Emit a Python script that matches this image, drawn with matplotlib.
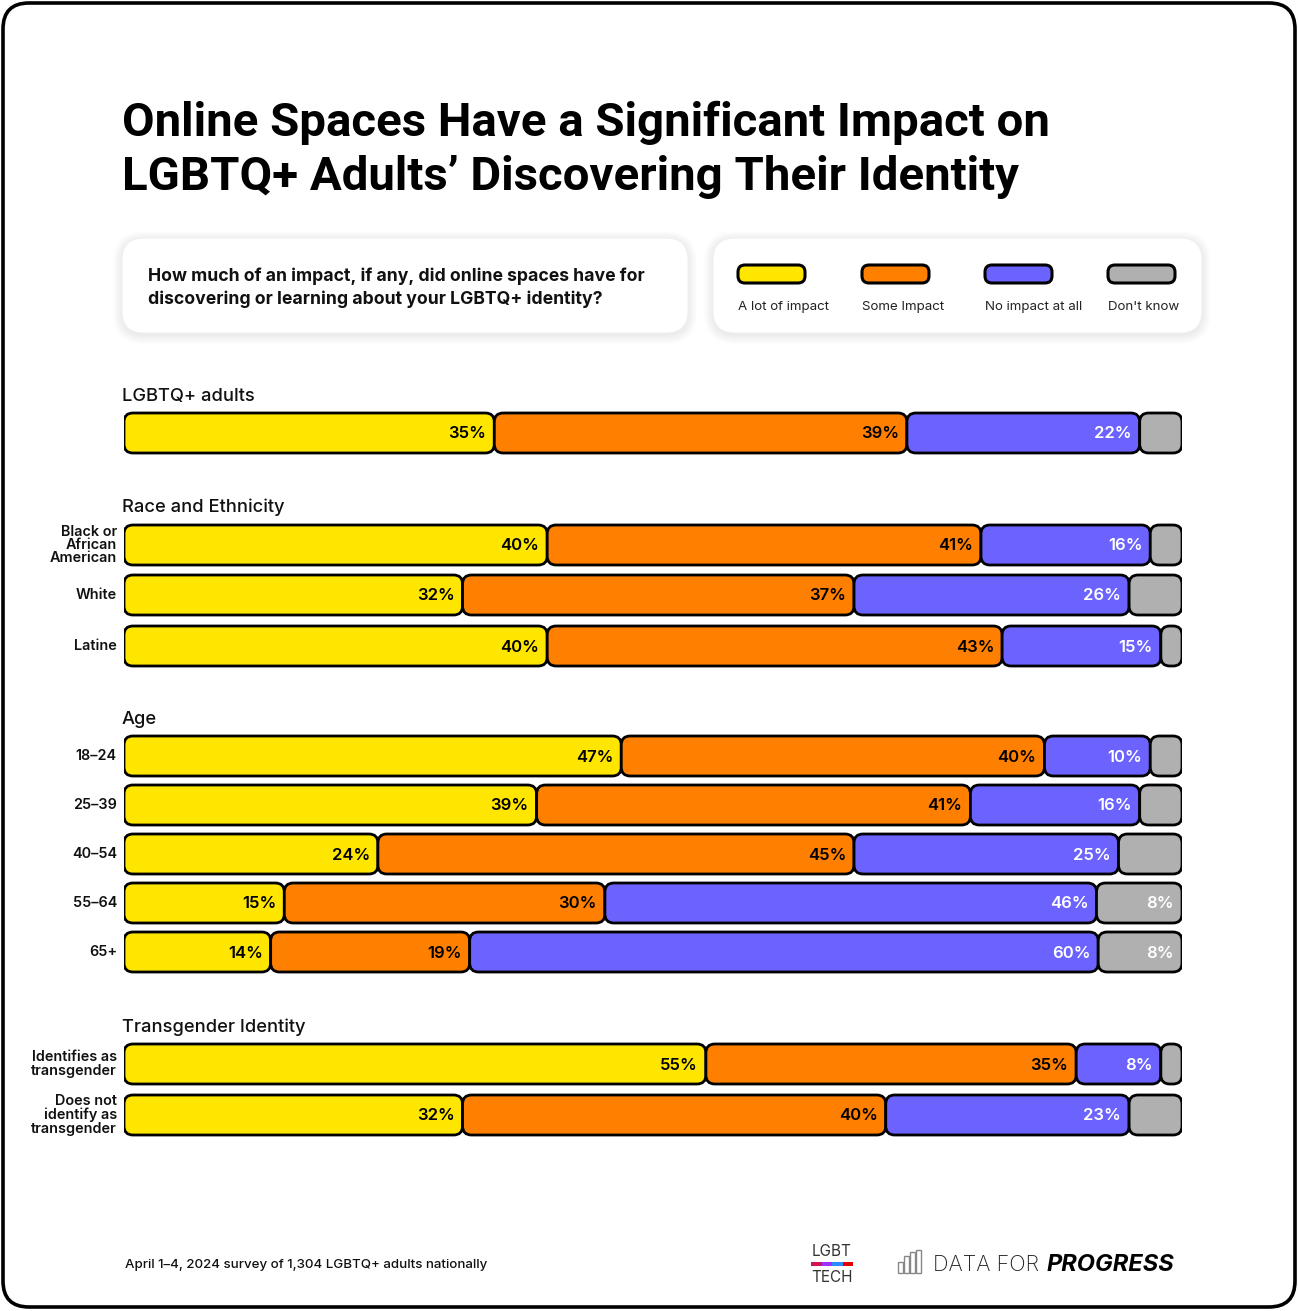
import matplotlib
matplotlib.use('Agg')
import matplotlib.pyplot as plt
from matplotlib.patches import FancyBboxPatch, Rectangle

W, H = 1298, 1311
DPI = 100

# --- data -------------------------------------------------------------
categories = ['A lot of impact', 'Some Impact', 'No impact at all', "Don't know"]
colors = ['#FFE600', '#FF7F00', '#6C63FF', '#B0B0B0']
label_colors = ['black', 'black', 'white', 'white']

group_titles = ['LGBTQ+ adults', 'Race and Ethnicity', 'Age', 'Transgender Identity']
row_labels = ['', 'Black or\nAfrican\nAmerican', 'White', 'Latine',
              '18–24', '25–39', '40–54', '55–64', '65+',
              'Identifies as\ntransgender', 'Does not\nidentify as\ntransgender']
lot_of_impact = [35, 40, 32, 40, 47, 39, 24, 15, 14, 55, 32]
some_impact = [39, 41, 37, 43, 40, 41, 45, 30, 19, 35, 40]
no_impact = [22, 16, 26, 15, 10, 16, 25, 46, 60, 8, 23]
dont_know = [4, 3, 5, 2, 3, 4, 6, 8, 8, 2, 5]
dont_know_shown = [False, False, False, False, False, False, False, True, True, False, False]

# --- layout (pixels from top) ----------------------------------------
row_y = [433, 545, 595, 646, 756, 805, 854, 903, 952, 1064, 1115]
group_y = [396, 507, 720, 1027]
bar_h = 40
bar_left, bar_right = 124, 1182
ax_top, ax_bot = 395, 1150

plt.rcParams['font.family'] = ['Inter', 'DejaVu Sans']

fig = plt.figure(figsize=(W / DPI, H / DPI), dpi=DPI)
fig.patch.set_facecolor('white')

# background / decoration axes in pixel units
bg = fig.add_axes([0, 0, 1, 1], zorder=0)
bg.set_xlim(0, W)
bg.set_ylim(H, 0)
bg.axis('off')

# outer frame
bg.add_patch(FancyBboxPatch((3, 3), W - 6, H - 7,
                            boxstyle='round,pad=0,rounding_size=26',
                            fc='white', ec='black', lw=2.6))


def shadow_box(x, y, w, h, r=22):
    for i in range(10):
        bg.add_patch(FancyBboxPatch((x - i, y - i + 2), w + 2 * i, h + 2 * i,
                                    boxstyle=f'round,pad=0,rounding_size={r + i}',
                                    fc='#000000', ec='none', alpha=0.008))
    bg.add_patch(FancyBboxPatch((x, y), w, h,
                                boxstyle=f'round,pad=0,rounding_size={r}',
                                fc='white', ec='#f0f0f0', lw=0.8))


shadow_box(122, 238, 566, 95)
shadow_box(713, 238, 489, 95)


def ftext(x, y, s, **kw):
    return fig.text(x / W, 1 - y / H, s, **kw)


# title
title_font = ['Roboto', 'DejaVu Sans']
ftext(122, 136, 'Online Spaces Have a Significant Impact on', family=title_font,
      fontsize=34.1, weight='bold', va='baseline', color='black')
ftext(122, 190, 'LGBTQ+ Adults’ Discovering Their Identity', family=title_font,
      fontsize=34.1, weight='bold', va='baseline', color='black')

# question
ftext(148, 276, 'How much of an impact, if any, did online spaces have for',
      fontsize=12.7, weight='bold', va='center', color='#111111')
ftext(148, 299, 'discovering or learning about your LGBTQ+ identity?',
      fontsize=12.7, weight='bold', va='center', color='#111111')

# legend
legend_x = [738, 862, 985, 1108]
for lx, cat, col in zip(legend_x, categories, colors):
    bg.add_patch(FancyBboxPatch((lx, 265), 67, 18,
                                boxstyle='round,pad=0,rounding_size=7',
                                fc=col, ec='black', lw=2.2))
    bg.text(lx, 307, cat, fontsize=9.6, va='center', ha='left', color='#222222')

# group headings
for gy, gt in zip(group_y, group_titles):
    ftext(122, gy, gt, fontsize=13.2, weight='medium', va='center', color='#111111')

# --- bars -------------------------------------------------------------
ax = fig.add_axes([bar_left / W, 1 - ax_bot / H,
                   (bar_right - bar_left) / W, (ax_bot - ax_top) / H], zorder=2)
ax.set_xlim(0, 100)
ax.set_ylim(ax_bot, ax_top)
ax.axis('off')
ax.patch.set_alpha(0)

px_per_unit = (bar_right - bar_left) / 100.0
rad = 9 / px_per_unit

for i, yc in enumerate(row_y):
    vals = [lot_of_impact[i], some_impact[i], no_impact[i], dont_know[i]]
    total = sum(vals)
    x0 = 0.0
    for k, v in enumerate(vals):
        w = v * 100.0 / total
        r = min(rad, w / 2 - 0.05)
        ax.add_patch(FancyBboxPatch((x0, yc - bar_h / 2), w, bar_h,
                                    boxstyle=f'round,pad=0,rounding_size={r}',
                                    mutation_aspect=px_per_unit,
                                    fc=colors[k], ec='black', lw=2.0))
        if k < 3 or dont_know_shown[i]:
            ax.text(x0 + w - 8 / px_per_unit, yc + 1, f'{v}%', ha='right', va='center',
                    fontsize=12, weight='semibold', color=label_colors[k])
        x0 += w
    if row_labels[i]:
        ax.text(-7 / px_per_unit, yc, row_labels[i], ha='right', va='center',
                fontsize=10.4, weight='semibold', color='#111111',
                linespacing=0.95)

# --- footer -----------------------------------------------------------
ftext(125, 1265, 'April 1–4, 2024 survey of 1,304 LGBTQ+ adults nationally',
      fontsize=9.6, weight='medium', va='center', color='#111111')

ftext(832, 1251, 'LGBT', fontsize=11, ha='center', va='center', color='#333333')
ftext(832, 1277, 'TECH', fontsize=11, ha='center', va='center', color='#333333')
for j, c in enumerate(['#D4145A', '#9B30FF', '#2E8BFF', '#E00000']):
    bg.add_patch(Rectangle((811 + j * 10.5, 1262), 10.5, 4, fc=c, ec='none'))

icon_tops = [1262, 1256, 1252, 1250]
for j, t in enumerate(icon_tops):
    bg.add_patch(Rectangle((898 + j * 6, t), 5, 1273 - t, fc='none',
                           ec='#888888', lw=1.0))
ftext(1039, 1265, 'DATA FOR', fontsize=15.6, weight='light', ha='right',
      va='center', color='#222222')
ftext(1174, 1265, 'PROGRESS', fontsize=17, weight='bold', style='italic',
      ha='right', va='center', color='black')

fig.savefig('out.png', dpi=DPI, facecolor='white')
